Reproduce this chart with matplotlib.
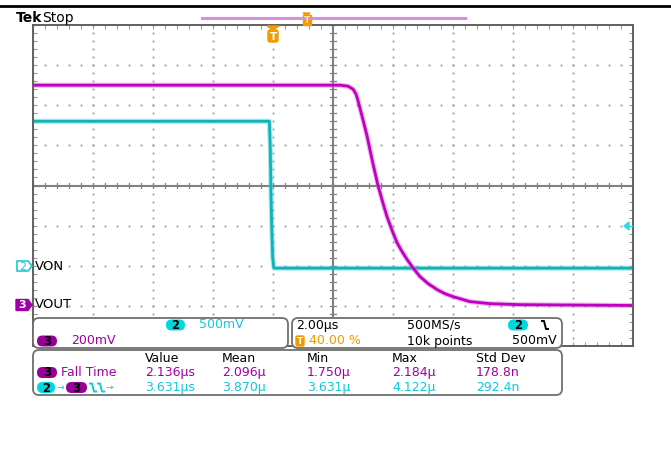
import numpy as np
import matplotlib.pyplot as plt
from matplotlib.patches import FancyBboxPatch, Polygon, Rectangle

W, H = 671, 457

# scope settings
t_div = 2.0          # us / div
trig_pos = 0.40      # trigger position (fraction of screen)
ch2_scale, ch2_ref = 0.5, -2.0   # V/div, ground marker (div)
ch3_scale, ch3_ref = 0.2, -3.0

# channel 2 (VON), time in us, volts
von_t = [-8.0, -0.12, -0.09, -0.07, -0.04, -0.01, 0.03, 12.0]
von_v = [1.80, 1.80, 1.45, 0.95, 0.45, 0.10, -0.03, -0.03]

# channel 3 (VOUT)
vout_t = [-8.0, 2.23, 2.50, 2.67, 2.77, 2.83, 2.97, 3.13, 3.33, 3.50, 3.67,
          3.80, 3.97, 4.13, 4.30, 4.47, 4.68, 4.90, 5.17, 5.47, 5.73, 6.00,
          6.57, 7.23, 8.23, 12.0]
vout_v = [1.10, 1.10, 1.095, 1.08, 1.055, 1.025, 0.945, 0.850, 0.710, 0.600,
          0.510, 0.445, 0.376, 0.316, 0.271, 0.231, 0.187, 0.146, 0.111,
          0.081, 0.061, 0.046, 0.021, 0.011, 0.006, 0.002]

meas_cols = ["Value", "Mean", "Min", "Max", "Std Dev"]
fall_time = ["2.136\u00b5s", "2.096\u00b5", "1.750\u00b5", "2.184\u00b5", "178.8n"]
delay = ["3.631\u00b5s", "3.870\u00b5", "3.631\u00b5", "4.122\u00b5", "292.4n"]

MAG = "#c000c0"
MAG_TXT = "#a000a8"
CYN = "#10b4b8"
CYN_TXT = "#10c8dc"
CYN_PILL = "#00d8e0"
ORG = "#f39a00"
GRID = "#9a9a9a"

plt.rcParams['font.family'] = 'DejaVu Sans'
fig = plt.figure(figsize=(W / 100, H / 100), dpi=100)

# graticule axes (x in us, y in divisions)
left, right, top, bot = 33, 633, 25, 346
ax = fig.add_axes([left / W, (H - bot) / H, (right - left) / W, (bot - top) / H])
x0 = -trig_pos * 10 * t_div
x1 = (1 - trig_pos) * 10 * t_div
xc = (x0 + x1) / 2
ax.set_xlim(x0, x1)
ax.set_ylim(-4, 4)
ax.set_xticks(np.arange(x0, x1 + 0.01, t_div))
ax.set_xticks(np.arange(x0, x1 + 0.01, t_div / 5), minor=True)
ax.set_yticks(np.arange(-4, 4.01, 1))
ax.set_yticks(np.arange(-4, 4.01, 0.2), minor=True)
ax.tick_params(which='both', direction='in', length=3, width=0.8, color=GRID,
               top=True, right=True, labelbottom=False, labelleft=False)
for s in ax.spines.values():
    s.set_color('#606060')
    s.set_linewidth(1.4)

# dotted grid
ys_fine = np.arange(-4, 4.01, 0.2)
xs_fine = np.arange(x0, x1 + 0.01, t_div / 5)
for k in range(1, 10):
    xg = x0 + k * t_div
    if k == 5:
        continue
    ax.plot(np.full_like(ys_fine, xg), ys_fine, 's', ms=1.3, mew=0, color=GRID)
for yg in [-3, -2, -1, 1, 2, 3]:
    ax.plot(xs_fine, np.full_like(xs_fine, yg), 's', ms=1.3, mew=0, color=GRID)

# center cross with ticks
ax.axhline(0, color='#808080', lw=1.5)
ax.axvline(xc, color='#808080', lw=1.5)
for xt in xs_fine:
    ax.plot([xt, xt], [-0.07, 0.07], color='#808080', lw=0.9)
for yt in ys_fine:
    ax.plot([xc - 0.1, xc + 0.1], [yt, yt], color='#808080', lw=0.9)

# traces
von_y = np.array(von_v) / ch2_scale + ch2_ref
vout_y = np.array(vout_v) / ch3_scale + ch3_ref
ax.plot(von_t, von_y, color='#40d0d4', lw=3.6, alpha=0.45)
ax.plot(von_t, von_y, color=CYN, lw=2.0)
ax.plot(vout_t, vout_y, color='#d860d8', lw=3.6, alpha=0.45)
ax.plot(vout_t, vout_y, color=MAG, lw=2.0)

# overlay in pixel coordinates
ov = fig.add_axes([0, 0, 1, 1])
ov.set_xlim(0, W)
ov.set_ylim(H, 0)
ov.axis('off')
ov.patch.set_visible(False)


def pill(x0_, x1_, yc, label, fc, tc='black', h=11):
    ov.add_patch(FancyBboxPatch((x0_, yc - h / 2), x1_ - x0_, h,
                                boxstyle=f"round,pad=0,rounding_size={h / 2}",
                                fc=fc, ec='none'))
    ov.text((x0_ + x1_) / 2, yc + 0.5, label, ha='center', va='center',
            fontsize=8.5, fontweight='bold', color=tc)


def fall_glyph(x, yc, color):
    ov.plot([x, x + 3, x + 5, x + 8], [yc - 4, yc - 4, yc + 4, yc + 4],
            color=color, lw=1.4, solid_capstyle='butt')


def rbox(xa, ya, xb, yb):
    ov.add_patch(FancyBboxPatch((xa, ya), xb - xa, yb - ya,
                                boxstyle="round,pad=0,rounding_size=6",
                                fc='white', ec='#707070', lw=1.3))


# header
ov.plot([0, W], [6, 6], color='black', lw=2)
ov.text(16, 18, "Tek", fontsize=10, fontweight='bold', va='center')
ov.text(42, 18, "Stop", fontsize=10, va='center')
ov.plot([202, 465], [18, 18], color='#d88fd8', lw=2.2)
ov.add_patch(Polygon([[303, 13], [310, 13], [308, 15], [305, 15]], color=ORG))
ov.add_patch(Rectangle((302.5, 15), 8, 10, color=ORG))
ov.text(306.5, 20.5, "T", fontsize=6.5, fontweight='bold', color='#ffe0a0',
        ha='center', va='center')
# trigger position marker
ov.add_patch(Polygon([[267, 26], [279, 26], [273, 30]], color=ORG))
ov.add_patch(FancyBboxPatch((268, 30), 10, 12, boxstyle="round,pad=0,rounding_size=2",
                            color=ORG))
ov.text(273, 36.5, "T", fontsize=7.5, fontweight='bold', color='white',
        ha='center', va='center')

# trigger level marker
ov.add_patch(Polygon([[624, 226], [629, 222], [629, 230]], color='#30d8e0'))
ov.plot([629, 632], [226, 226], color='#30d8e0', lw=1)

# channel ground markers
ov.add_patch(Polygon([[17, 261], [28, 261], [32, 266], [28, 271], [17, 271]],
                     fc='white', ec='#20c8d0', lw=1.2))
ov.text(23, 266.5, "2", fontsize=8, color='#20c8d0', ha='center', va='center')
ov.text(35, 266, "VON", fontsize=9.5, va='center')
ov.add_patch(Polygon([[16, 299.5], [28, 299.5], [32, 305], [28, 310.5], [16, 310.5]],
                     fc='#a000a8', ec='#a000a8'))
ov.text(22.5, 305.5, "3", fontsize=8, color='white', fontweight='bold',
        ha='center', va='center')
ov.text(35, 305, "VOUT", fontsize=9.5, va='center')

# info boxes
rbox(33, 318, 288, 348)
rbox(292, 318, 562, 348)
rbox(33, 350, 562, 395)

fs = 9
pill(166, 185, 325, "2", CYN_PILL)
ov.text(199, 325, "500mV", fontsize=fs, color=CYN_TXT, va='center')
pill(37, 57, 341, "3", '#980098')
ov.text(71, 341, "200mV", fontsize=fs, color=MAG_TXT, va='center')

ov.text(296, 325, "2.00\u00b5s", fontsize=fs, va='center')
ov.text(407, 325, "500MS/s", fontsize=fs, va='center')
pill(508, 528, 325, "2", CYN_PILL)
fall_glyph(541, 325, 'black')
ov.add_patch(FancyBboxPatch((296, 336), 8, 10, boxstyle="round,pad=0,rounding_size=1.5",
                            color=ORG))
ov.text(300, 341.5, "T", fontsize=6.5, fontweight='bold', color='white',
        ha='center', va='center')
ov.text(309, 341, "40.00 %", fontsize=fs, color=ORG, va='center')
ov.text(407, 341, "10k points", fontsize=fs, va='center')
ov.text(512, 341, "500mV", fontsize=fs, va='center')

col_x = [145, 222, 307, 392, 476]
for cx, name, a, b in zip(col_x, meas_cols, fall_time, delay):
    ov.text(cx, 358, name, fontsize=fs, va='center')
    ov.text(cx, 372.5, a, fontsize=fs, color=MAG_TXT, va='center')
    ov.text(cx, 387.5, b, fontsize=fs, color=CYN_TXT, va='center')

pill(37, 57, 372.5, "3", '#980098')
ov.text(61, 372.5, "Fall Time", fontsize=fs, color=MAG_TXT, va='center')
pill(37, 55, 387.5, "2", CYN_PILL)
ov.text(60, 387.5, "\u2192", fontsize=6.5, color=CYN_TXT, va='center', ha='center')
pill(66, 87, 387.5, "3", '#980098')
fall_glyph(89, 387.5, CYN_TXT)
fall_glyph(97, 387.5, CYN_TXT)
ov.text(109, 387.5, "\u2192", fontsize=6.5, color=CYN_TXT, va='center', ha='center')

fig.savefig("out.png", dpi=100)
